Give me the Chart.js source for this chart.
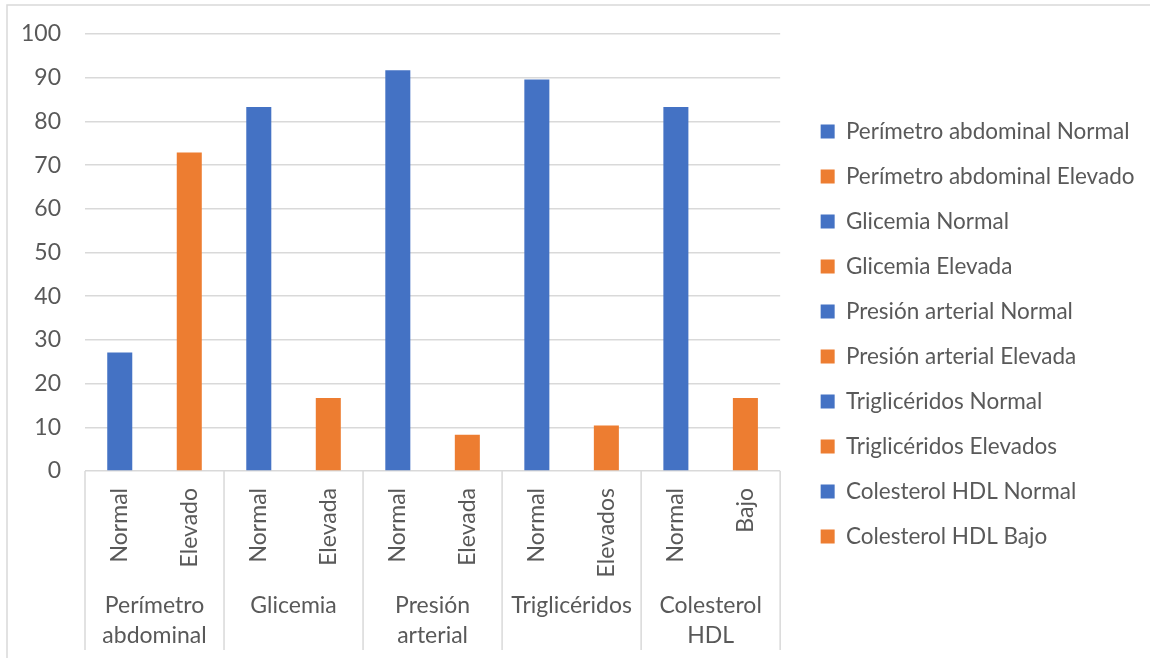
<!DOCTYPE html>
<html>
<head>
<meta charset="utf-8">
<script src="https://cdn.jsdelivr.net/npm/chart.js@4.4.1/dist/chart.umd.min.js"></script>
<style>
  html, body { margin: 0; padding: 0; background: #ffffff; }
  canvas { display: block; }
</style>
</head>
<body>
<canvas id="chart" width="1150" height="658"></canvas>
<script>
// Category labels (inner level, one per bar)
const subLabels = ['Normal', 'Elevado', 'Normal', 'Elevada', 'Normal', 'Elevada', 'Normal', 'Elevados', 'Normal', 'Bajo'];
// Outer level groups and how many inner categories each covers
const groupLabels = [['Perímetro', 'abdominal'], ['Glicemia'], ['Presión', 'arterial'], ['Triglicéridos'], ['Colesterol', 'HDL']];
const groupSpans = [2, 2, 2, 2, 2];
// One series per bar
const seriesNames = [
  'Perímetro abdominal Normal', 'Perímetro abdominal Elevado',
  'Glicemia Normal', 'Glicemia Elevada',
  'Presión arterial Normal', 'Presión arterial Elevada',
  'Triglicéridos Normal', 'Triglicéridos Elevados',
  'Colesterol HDL Normal', 'Colesterol HDL Bajo'
];
const seriesValues = [27.1, 72.9, 83.3, 16.7, 91.7, 8.3, 89.6, 10.4, 83.3, 16.7];
const yMin = 0, yMax = 100, yStep = 10;

const BLUE = '#4472C4';
const ORANGE = '#ED7D31';
const TEXT = '#595959';
const GRID = '#d9d9d9';
const FONT = 'Lato';
const FONT_SIZE = 23;

const datasets = seriesNames.map((name, i) => ({
  label: name,
  data: seriesValues.map((v, j) => (j === i ? v : null)),
  backgroundColor: i % 2 === 0 ? BLUE : ORANGE,
  borderWidth: 0,
  skipNull: true,
  barPercentage: 0.36,
  categoryPercentage: 1.0
}));

// Outer frame, group separators and the second label row
const frameAndGroups = {
  id: 'frameAndGroups',
  beforeDraw(chart) {
    const ctx = chart.ctx;
    ctx.save();
    ctx.strokeStyle = GRID;
    ctx.lineWidth = 1.5;
    ctx.beginPath();
    ctx.moveTo(7, 658);
    ctx.lineTo(7, 5);
    ctx.lineTo(1150, 5);
    ctx.stroke();
    ctx.restore();
  },
  afterDraw(chart) {
    const ctx = chart.ctx;
    const x = chart.scales.x;
    const area = chart.chartArea;
    const bottom = 650;
    const px = i => x.getPixelForValue(i);
    ctx.save();
    ctx.strokeStyle = GRID;
    ctx.lineWidth = 1.5;
    const bounds = [area.left];
    let idx = 0;
    groupSpans.forEach((span, g) => {
      idx += span;
      if (g < groupSpans.length - 1) bounds.push((px(idx - 1) + px(idx)) / 2);
    });
    bounds.push(area.right);
    ctx.beginPath();
    bounds.forEach(b => {
      ctx.moveTo(b, area.bottom);
      ctx.lineTo(b, bottom);
    });
    ctx.stroke();
    ctx.fillStyle = TEXT;
    ctx.font = FONT_SIZE + 'px ' + FONT;
    ctx.textAlign = 'center';
    ctx.textBaseline = 'middle';
    let start = 0;
    groupSpans.forEach((span, g) => {
      const cx = (px(start) + px(start + span - 1)) / 2;
      groupLabels[g].forEach((line, k) => {
        ctx.fillText(line, cx, 606 + k * 30);
      });
      start += span;
    });
    ctx.restore();
  }
};

new Chart(document.getElementById('chart'), {
  type: 'bar',
  data: { labels: subLabels, datasets },
  options: {
    responsive: false,
    animation: false,
    layout: { padding: { left: 0, top: 34, right: 5.5, bottom: 24 } },
    plugins: {
      tooltip: { enabled: false },
      legend: {
        position: 'right',
        align: 'center',
        maxWidth: 420,
        labels: {
          boxWidth: 14,
          boxHeight: 14,
          padding: 22.5,
          color: TEXT,
          font: { family: FONT, size: 22.5 }
        }
      }
    },
    scales: {
      x: {
        grid: { display: false, drawTicks: false },
        border: { display: false },
        ticks: {
          color: TEXT,
          font: { family: FONT, size: FONT_SIZE },
          minRotation: 90,
          maxRotation: 90,
          padding: 17,
          autoSkip: false
        },
        afterFit(scale) { scale.height = 163; }
      },
      y: {
        min: yMin,
        max: yMax,
        grid: { color: GRID, lineWidth: 1.5, drawTicks: false },
        border: { display: false },
        ticks: {
          stepSize: yStep,
          color: TEXT,
          font: { family: FONT, size: FONT_SIZE },
          padding: 24
        },
        afterFit(scale) {
          scale.width = 85;
          scale.paddingTop = 0;
          scale.paddingBottom = 0;
        }
      },
      // empty spacer between the plot and the legend
      gap: {
        type: 'linear',
        position: 'right',
        grid: { display: false, drawTicks: false },
        border: { display: false },
        ticks: { display: false },
        afterFit(scale) { scale.width = 18; }
      }
    }
  },
  plugins: [frameAndGroups]
});
</script>
</body>
</html>
